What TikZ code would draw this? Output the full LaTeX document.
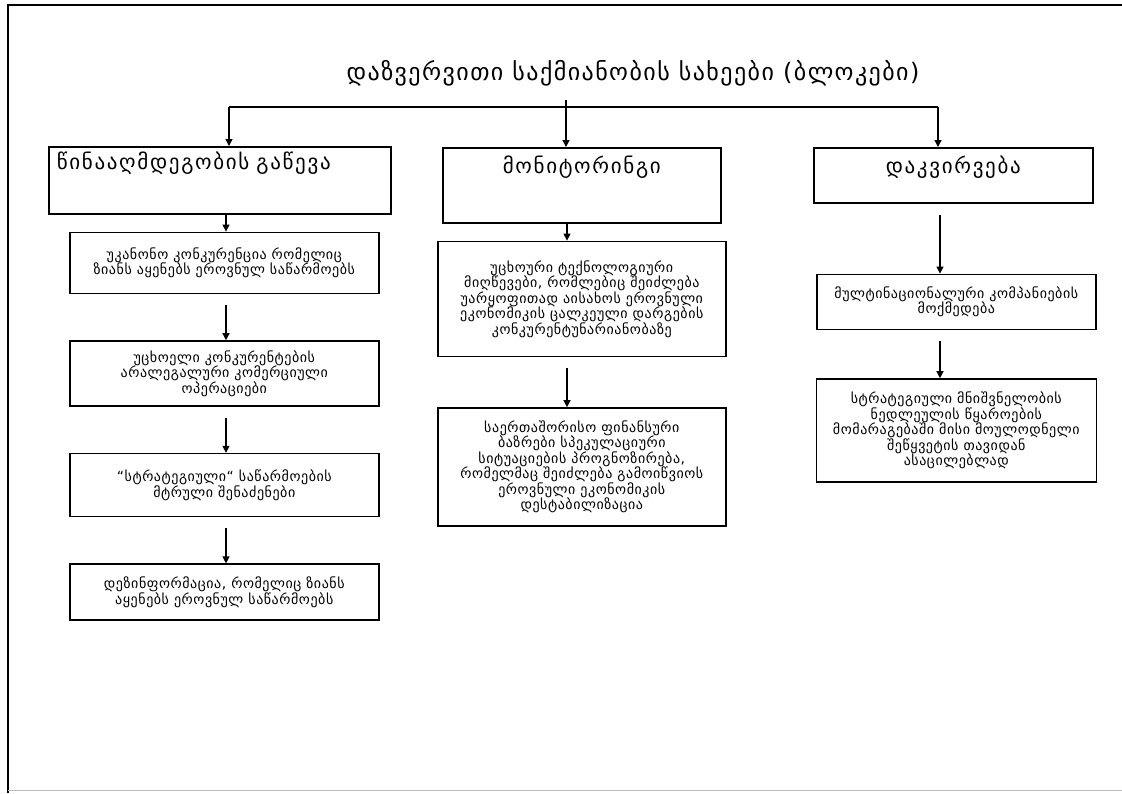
\documentclass[tikz,border=0pt]{standalone}
\usepackage{fontspec}
\setmainfont{DejaVu Sans}
\usetikzlibrary{positioning,arrows.meta}

\begin{document}
\begin{tikzpicture}[x=1pt, y=-1pt,
  blockbox/.style={draw, rectangle, line width=1.6pt, anchor=north west, inner xsep=8pt, inner ysep=4pt, font=\fontsize{21}{25}\selectfont\addfontfeatures{LetterSpace=8}},
  itembox/.style={draw, rectangle, line width=1.6pt, align=center, inner sep=3pt, font=\fontsize{14}{15.5}\selectfont\addfontfeatures{LetterSpace=4}},
  arr/.style={line width=1.3pt, -{Triangle[length=7pt,width=7pt]}},
  gaparr/.style={arr, shorten <=11pt}]

\useasboundingbox (0,0) rectangle (1122,793);

% page frame
\draw[line width=1.6pt] (8,793) -- (8,5) -- (1122,5);
\draw[gray!50, line width=0.8pt] (8,790) -- (1122,790);

% Title
\node[font=\fontsize{24}{28}\selectfont\addfontfeatures{LetterSpace=6}] (title) at (633,73) {დაზვერვითი საქმიანობის სახეები (ბლოკები)};

% bus and column positions
\coordinate (tick) at (566,100);
\coordinate (busL) at (229,107);
\coordinate (busM) at (566,107);
\coordinate (busR) at (938,107);
\coordinate (colL) at (226,0);
\coordinate (colM) at (567,0);
\coordinate (colR) at (940,0);

% Blocks
\node[blockbox, text width=326pt, align=left, text height=19pt, text depth=40pt] (resist) at (48,146) {წინააღმდეგობის გაწევა};
\node[blockbox, text width=262pt, align=center, text height=22pt, text depth=45pt] (monitor) at (442,147) {მონიტორინგი};
\node[blockbox, text width=263pt, align=center, text height=22pt, text depth=25pt] (observe) at (813,147) {დაკვირვება};

% Left column
\node[itembox, minimum width=309pt, minimum height=61pt, below=17pt of resist, xshift=4.5pt] (a1) {უკანონო კონკურენცია რომელიც\\ზიანს აყენებს ეროვნულ საწარმოებს};
\node[itembox, minimum width=309pt, minimum height=65pt, below=46pt of a1] (a2) {უცხოელი კონკურენტების\\არალეგალური კომერციული\\ოპერაციები};
\node[itembox, minimum width=309pt, minimum height=63pt, below=46pt of a2] (a3) {“სტრატეგიული“ საწარმოების\\მტრული შენაძენები};
\node[itembox, minimum width=309pt, minimum height=56pt, below=46pt of a3] (a4) {დეზინფორმაცია, რომელიც ზიანს\\აყენებს ეროვნულ საწარმოებს};

% Middle column
\node[itembox, minimum width=288pt, minimum height=115pt, below=17pt of monitor] (b1) {უცხოური ტექნოლოგიური\\მიღწევები, რომლებიც შეიძლება\\უარყოფითად აისახოს ეროვნული\\ეკონომიკის ცალკეული დარგების\\კონკურენტუნარიანობაზე};
\node[itembox, minimum width=288pt, minimum height=118pt, below=50pt of b1] (b2) {საერთაშორისო ფინანსური\\ბაზრები სპეკულაციური\\სიტუაციების პროგნოზირება,\\რომელმაც შეიძლება გამოიწვიოს\\ეროვნული ეკონომიკის\\დესტაბილიზაცია};

% Right column
\node[itembox, minimum width=279pt, minimum height=55pt, below=70pt of observe, xshift=3pt] (c1) {მულტინაციონალური კომპანიების\\მოქმედება};
\node[itembox, minimum width=280pt, minimum height=103pt, below=48pt of c1] (c2) {სტრატეგიული მნიშვნელობის\\ნედლეულის წყაროების\\მომარაგებაში მისი მოულოდნელი\\შეწყვეტის თავიდან\\ასაცილებლად};

% Arrows
\draw[line width=1.3pt] (busL) -- (busR);
\draw[line width=1.3pt] (tick) -- (busM);
\draw[arr] (busL) -- (resist.north -| busL);
\draw[arr] (busM) -- (monitor.north -| busM);
\draw[arr] (busR) -- (observe.north -| busR);

\draw[arr] (resist.south -| colL) -- (a1.north -| colL);
\draw[gaparr] (a1.south -| colL) -- (a2.north -| colL);
\draw[gaparr] (a2.south -| colL) -- (a3.north -| colL);
\draw[gaparr] (a3.south -| colL) -- (a4.north -| colL);

\draw[arr] (monitor.south -| colM) -- (b1.north -| colM);
\draw[gaparr] (b1.south -| colM) -- (b2.north -| colM);

\draw[gaparr] (observe.south -| colR) -- (c1.north -| colR);
\draw[gaparr] (c1.south -| colR) -- (c2.north -| colR);

\end{tikzpicture}
\end{document}
